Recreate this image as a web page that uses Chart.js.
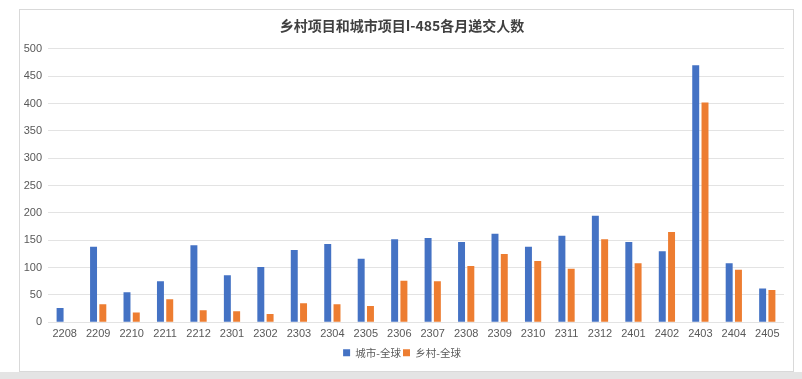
<!DOCTYPE html>
<html>
<head>
<meta charset="utf-8">
<script src="https://cdn.jsdelivr.net/npm/chart.js@4"></script>
<style>
  html, body { margin: 0; padding: 0; background: #ffffff; }
  #wrap { position: relative; width: 802px; height: 379px; overflow: hidden; }
  #frame { position: absolute; left: 19px; top: 9px; width: 773px; height: 361px; border: 1px solid #d9d9d9; background: #fff; }
  #band { position: absolute; left: 0; top: 372px; width: 802px; height: 7px; background: #e4e4e4; }
  #c { position: absolute; left: 0; top: 0; }
</style>
</head>
<body>
<div id="wrap">
  <div id="frame"></div>
  <div id="band"></div>
  <canvas id="c" width="802" height="379"></canvas>
</div>
<script>
const categories = ["2208","2209","2210","2211","2212","2301","2302","2303","2304","2305","2306","2307","2308","2309","2310","2311","2312","2401","2402","2403","2404","2405"];
const cityGlobal = [26,138,55,75,141,86,101,132,143,116,152,154,147,162,138,158,195,147,130,470,108,62];
const ruralGlobal = [0,33,18,42,22,20,15,35,33,30,76,75,103,125,112,98,152,108,165,402,96,59];
const seriesNames = ["城市-全球","乡村-全球"];
const chartTitle = "乡村项目和城市项目I-485各月递交人数";

const FONT = "'Liberation Sans', Arial, 'Noto Sans CJK SC', sans-serif";

new Chart(document.getElementById('c'), {
  type: 'bar',
  data: {
    labels: categories,
    datasets: [
      { label: seriesNames[0], data: cityGlobal, backgroundColor: '#4472C4', categoryPercentage: 0.555, barPercentage: 0.75 },
      { label: seriesNames[1], data: ruralGlobal, backgroundColor: '#ED7D31', categoryPercentage: 0.555, barPercentage: 0.75 }
    ]
  },
  options: {
    responsive: false,
    animation: false,
    devicePixelRatio: 1,
    layout: { padding: { left: 20, right: 18, top: 9, bottom: 11 } },
    plugins: {
      title: {
        display: true,
        text: chartTitle,
        color: '#404040',
        font: { family: "'Noto Sans CJK SC', sans-serif", size: 14, weight: 'bold' },
        padding: { top: 8, bottom: 15 }
      },
      legend: {
        position: 'bottom',
        labels: {
          boxWidth: 7, boxHeight: 7, padding: 2,
          color: '#595959',
          font: { family: "'Noto Sans CJK SC', sans-serif", size: 10.5 }
        }
      },
      tooltip: { enabled: false }
    },
    scales: {
      x: {
        grid: { display: false, drawTicks: false },
        border: { display: false },
        ticks: { color: '#595959', font: { family: FONT, size: 11 }, padding: 5, maxRotation: 0, autoSkip: false }
      },
      y: {
        min: 0, max: 500,
        afterFit: (s) => { s.width = 28; },
        grid: { color: '#e3e3e3', drawTicks: false },
        border: { display: false },
        ticks: { stepSize: 50, color: '#595959', font: { family: FONT, size: 11 }, padding: 6 }
      }
    }
  }
});
</script>
</body>
</html>
